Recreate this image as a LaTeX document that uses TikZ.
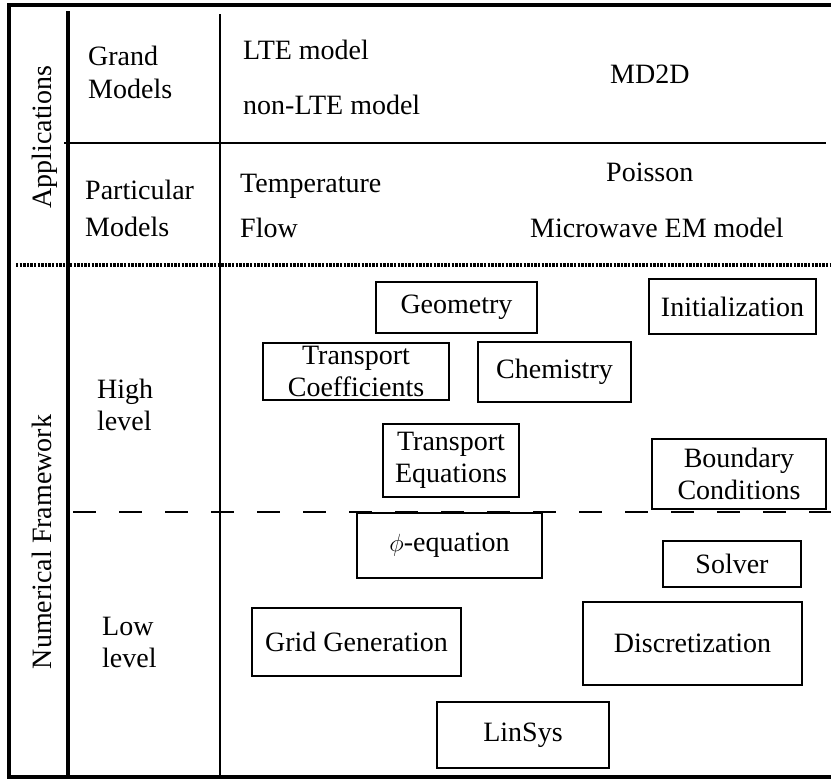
\documentclass[tikz,border=0pt]{standalone}
\usepackage{fontspec}
\setmainfont{Liberation Serif}
\begin{document}
\begin{tikzpicture}[x=1pt,y=-1pt,
  txt/.style={font=\fontsize{28}{32}\selectfont, inner sep=0pt, anchor=base west},
  side/.style={font=\fontsize{28}{32}\selectfont, inner sep=0pt, anchor=base, rotate=90},
  box/.style={draw, line width=2pt, inner sep=0pt, align=center, font=\fontsize{28}{32}\selectfont},
  heavy/.style={line width=4pt},
  light/.style={line width=2pt},
  dotline/.style={line width=3.5pt, dash pattern=on 2.4pt off 1.2pt},
  dashline/.style={line width=2.5pt, dash pattern=on 23pt off 23pt}
]
\useasboundingbox (0,0) rectangle (831,780);
% frame and rules
\draw[heavy] (831,5) -- (9,5) -- (9,777) -- (831,777);
\draw[heavy] (68,11) -- (68,777);
\draw[light] (220,14) -- (220,777);
\draw[light] (64,143) -- (826,143);
\draw[dotline] (16,265) -- (831,265);
\draw[dashline] (73,512) -- (831,512);
% side labels
\node[side] (app) at (51,137) {Applications};
\node[side] (num) at (51,542) {Numerical Framework};
% row labels
\node[txt] (grand) at (88,65) {Grand};
\node[txt] (grandm) at (88,98) {Models};
\node[txt] (part) at (85,199) {Particular};
\node[txt] (partm) at (85,236) {Models};
\node[txt] (high) at (97,398) {High};
\node[txt] (highl) at (97,430) {level};
\node[txt] (low) at (102,635) {Low};
\node[txt] (lowl) at (102,667) {level};
% application texts
\node[txt] (lte) at (243,59) {LTE model};
\node[txt] (nlte) at (243,114) {non-LTE model};
\node[txt] (md) at (610,83) {MD2D};
\node[txt] (temp) at (240,192) {Temperature};
\node[txt] (flow) at (240,237) {Flow};
\node[txt] (poi) at (606,181) {Poisson};
\node[txt] (mw) at (530,237) {Microwave EM model};
% boxes
\node[box, minimum width=161pt, minimum height=51pt] (geo) at (456.5,307.5) {Geometry};
\node[box, minimum width=167pt, minimum height=55pt] (init) at (732.5,306.5) {Initialization};
\node[box, minimum width=186pt, minimum height=57pt] (tc) at (356,371.5) {Transport\\Coefficients};
\node[box, minimum width=153pt, minimum height=60pt] (chem) at (554.5,372) {Chemistry};
\node[box, minimum width=136pt, minimum height=73pt] (te) at (451,460.5) {Transport\\Equations};
\node[box, minimum width=174pt, minimum height=70pt] (bc) at (739,474) {Boundary\\Conditions};
\node[box, minimum width=185pt, minimum height=65pt] (phi) at (449.5,545.5) {$\phi$-equation};
\node[box, minimum width=138pt, minimum height=46pt] (solv) at (732,564) {Solver};
\node[box, minimum width=209pt, minimum height=68pt] (grid) at (356.5,642) {Grid Generation};
\node[box, minimum width=219pt, minimum height=83pt] (disc) at (692.5,643.5) {Discretization};
\node[box, minimum width=172pt, minimum height=66pt] (lin) at (523,735) {LinSys};
\end{tikzpicture}
\end{document}
